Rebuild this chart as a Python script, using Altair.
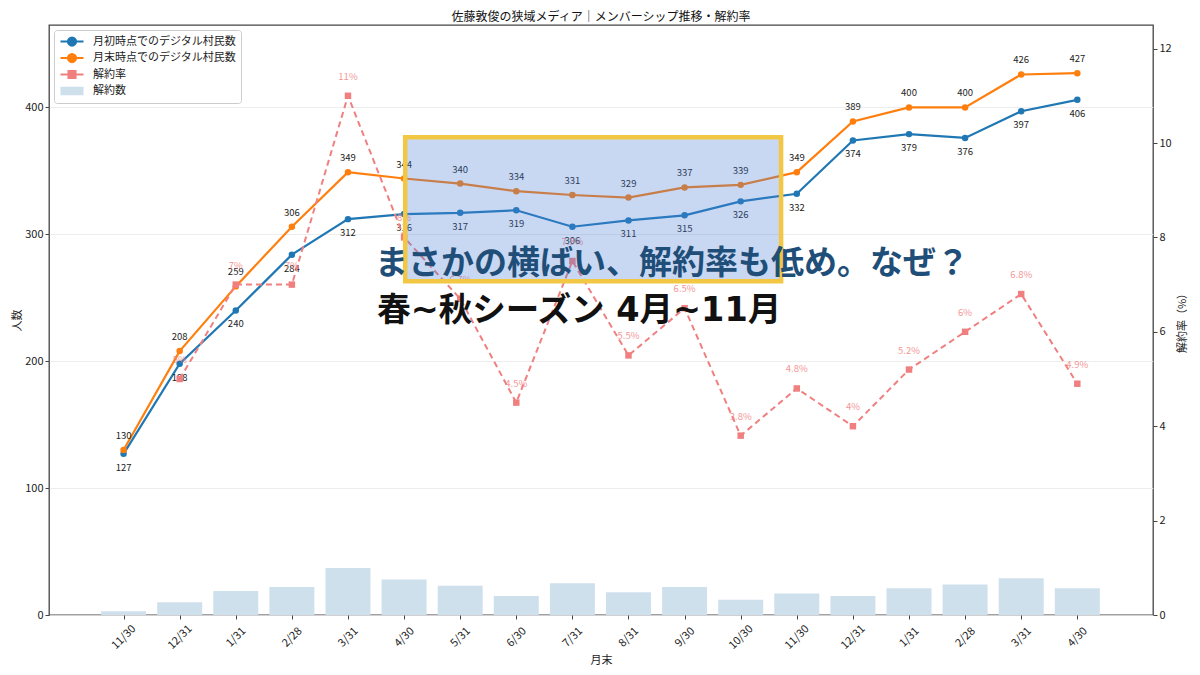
import altair as alt
import pandas as pd

# ---- data ----
dates = ["11/30", "12/31", "1/31", "2/28", "3/31", "4/30", "5/31", "6/30", "7/31",
         "8/31", "9/30", "10/30", "11/30", "12/31", "1/31", "2/28", "3/31", "4/30"]
start_members = [127, 198, 240, 284, 312, 316, 317, 319, 306, 311, 315, 326, 332, 374, 379, 376, 397, 406]
end_members = [130, 208, 259, 306, 349, 344, 340, 334, 331, 329, 337, 339, 349, 389, 400, 400, 426, 427]
churn_rate = [None, 5, 7, 7, 11, 8, 6.7, 4.5, 7.5, 5.5, 6.5, 3.8, 4.8, 4, 5.2, 6, 6.8, 4.9]
churn_count = [3, 10, 19, 22, 37, 28, 23, 15, 25, 18, 22, 12, 17, 15, 21, 24, 29, 21]

series_names = ["月初時点でのデジタル村民数", "月末時点でのデジタル村民数", "解約率", "解約数"]
title_text = "佐藤敦俊の狭域メディア｜メンバーシップ推移・解約率"
headline = "まさかの横ばい、解約率も低め。なぜ？"
subline = "春~秋シーズン 4月~11月"

FONT = "Noto Sans CJK JP"
BIG_FONT = "DejaVu Sans, Noto Sans CJK JP"
BLUE = "#1f77b4"
ORANGE = "#ff7f0e"
PINK = "#f08080"
BAR = "#cfe0ed"

idx = list(range(len(dates)))
df = pd.DataFrame({"i": idx, "label": dates, "start": start_members,
                   "end": end_members, "count": churn_count})
rate_df = pd.DataFrame({
    "i": [i for i, r in zip(idx, churn_rate) if r is not None],
    "rate": [r for r in churn_rate if r is not None],
})
rate_df["txt"] = [f"{r:g}%" for r in rate_df["rate"]]

# annotation box (data coordinates: x index, y people)
box_df = pd.DataFrame({"x": [5.02], "x2": [11.72], "y": [263], "y2": [376.6]})
head_df = pd.DataFrame({"x": [4.48], "y": [276.5], "t": [headline]})
sub_df = pd.DataFrame({"x": [4.52], "y": [239.5], "t": [subline]})
leg_df = pd.DataFrame({"series": series_names})

label_expr = "[" + ",".join(f"'{d}'" for d in dates) + "][datum.value]"

x_scale = alt.Scale(domain=[-1.24, 18.26], nice=False, zero=False)
x_axis = alt.Axis(values=idx, labelExpr=label_expr, labelAngle=-45,
                  labelAlign="center", labelBaseline="middle",
                  labelPadding=18, labelFlush=False, labelOverlap=False,
                  tickSize=4, grid=False, domain=False,
                  title="月末", titlePadding=4)


def X(field):
    return alt.X(field, scale=x_scale, axis=x_axis)


yL_scale = alt.Scale(domain=[0, 465], nice=False, zero=True)
yL_axis = alt.Axis(values=[0, 100, 200, 300, 400], title="人数", grid=True,
                   gridColor="#e8e8e8", gridWidth=0.8, domain=False, tickSize=4,
                   titlePadding=2, orient="left")
yR_scale = alt.Scale(domain=[0, 12.5], nice=False, zero=True)
yR_axis = alt.Axis(values=[0, 2, 4, 6, 8, 10, 12], title="解約率（%）", grid=False,
                   domain=False, tickSize=4, orient="right", titleAngle=270,
                   titleBaseline="top", titlePadding=5)


def YL(field):
    return alt.Y(field, scale=yL_scale, axis=yL_axis)


def YR(field):
    return alt.Y(field, scale=yR_scale, axis=yR_axis)


bars = alt.Chart(df).mark_bar(size=45, color=BAR).encode(x=X("i:Q"), y=YL("count:Q"))

blue = alt.Chart(df).mark_line(
    color=BLUE, strokeWidth=2.2,
    point=alt.OverlayMarkDef(filled=True, color=BLUE, size=42, opacity=1)
).encode(x=X("i:Q"), y=YL("start:Q"))

orange = alt.Chart(df).mark_line(
    color=ORANGE, strokeWidth=2.2,
    point=alt.OverlayMarkDef(filled=True, color=ORANGE, size=42, opacity=1)
).encode(x=X("i:Q"), y=YL("end:Q"))

blue_lab = alt.Chart(df).mark_text(dy=14, fontSize=9.5, font=FONT, color="#222").encode(
    x=X("i:Q"), y=YL("start:Q"), text="start:Q")
orange_lab = alt.Chart(df).mark_text(dy=-14, fontSize=9.5, font=FONT, color="#222").encode(
    x=X("i:Q"), y=YL("end:Q"), text="end:Q")

shape_expr = (
    "datum.value === '解約数' ? 'M-1,-0.36H1V0.36H-1Z' : "
    "(datum.value === '解約率' ? 'M-1,0H1M-0.3,-0.3H0.3V0.3H-0.3Z' : "
    "'M-1,0H1M0.35,0A0.35,0.35 0 1 1 -0.35,0A0.35,0.35 0 1 1 0.35,0Z')"
)
stroke_expr = (
    f"datum.value === '解約数' ? 'transparent' : "
    f"(datum.value === '解約率' ? '{PINK}' : "
    f"(datum.value === '{series_names[0]}' ? '{BLUE}' : '{ORANGE}'))"
)

legend_layer = alt.Chart(leg_df).mark_point(filled=True, opacity=0).encode(
    color=alt.Color(
        "series:N",
        scale=alt.Scale(domain=series_names, range=[BLUE, ORANGE, PINK, BAR]),
        legend=alt.Legend(
            title=None, orient="top-left", offset=5, padding=5,
            fillColor="white", strokeColor="#cccccc", cornerRadius=3,
            labelFont=FONT, labelFontSize=11, labelColor="#222",
            symbolType={"expr": shape_expr},
            symbolStrokeColor={"expr": stroke_expr},
            symbolStrokeWidth=2.2, symbolSize=529, symbolOpacity=1,
            clipHeight=13, rowPadding=3.5, labelOffset=8,
        ),
    )
)

left = alt.layer(bars, blue, orange, blue_lab, orange_lab, legend_layer)

rate_line = alt.Chart(rate_df).mark_line(
    color=PINK, strokeWidth=2, strokeDash=[6, 4]
).encode(x=X("i:Q"), y=YR("rate:Q"))
rate_pts = alt.Chart(rate_df).mark_point(shape="square", filled=True, color=PINK,
                                         size=42, opacity=1).encode(
    x=X("i:Q"), y=YR("rate:Q"))
rate_lab = alt.Chart(rate_df).mark_text(dy=-19, fontSize=9.5, font=FONT, color=PINK,
                                        opacity=0.8).encode(
    x=X("i:Q"), y=YR("rate:Q"), text="txt:N")

right = alt.layer(rate_line, rate_pts, rate_lab)

yA_scale = alt.Scale(domain=[0, 465], nice=False, zero=True)
box = alt.Chart(box_df).mark_rect(
    fill="#4a7fd6", fillOpacity=0.3, stroke="#f2c744", strokeWidth=4.5
).encode(x=X("x:Q"), x2="x2:Q", y=alt.Y("y:Q", scale=yA_scale, axis=None), y2="y2:Q")
head = alt.Chart(head_df).mark_text(
    align="left", baseline="middle", fontSize=33, fontWeight="bold", font=BIG_FONT,
    color="#1f4e79"
).encode(x=X("x:Q"), y=alt.Y("y:Q", scale=yA_scale, axis=None), text="t:N")
sub = alt.Chart(sub_df).mark_text(
    align="left", baseline="middle", fontSize=33.5, fontWeight="bold", font=BIG_FONT,
    color="#111111"
).encode(x=X("x:Q"), y=alt.Y("y:Q", scale=yA_scale, axis=None), text="t:N")

ann = alt.layer(box, head, sub)

chart = alt.layer(left, right, ann).resolve_scale(y="independent").properties(
    width=1104, height=590,
    autosize=alt.AutoSizeParams(type="none"),
    padding={"left": 41, "top": 17, "right": 39, "bottom": 52},
    title=alt.TitleParams(title_text, fontSize=12, fontWeight="normal", font=FONT,
                          anchor="middle", offset=1, color="#111"),
).configure_view(stroke="#444", strokeWidth=1.3).configure_axis(
    labelFont=FONT, titleFont=FONT, labelFontSize=11, titleFontSize=11,
    labelColor="#222", titleColor="#222", tickColor="#444", titleFontWeight="normal"
)

chart.save("out.html", embed_options={"renderer": "svg", "actions": False})
